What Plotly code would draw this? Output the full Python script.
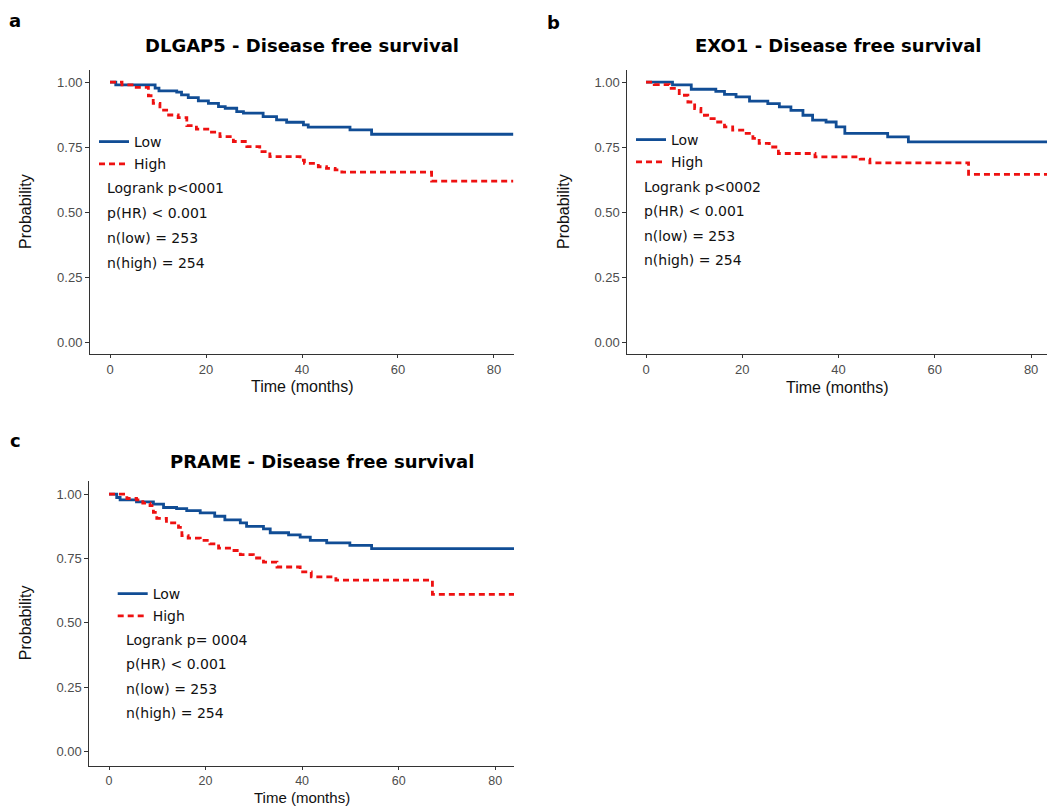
import plotly.graph_objects as go

W, H = 1047, 808

# ---------------- data ----------------
a_low_t = [0, 1.2, 9.4, 10.2, 13.9, 14.9, 16.3, 18.4, 20.5, 22.6, 24, 26.4, 27.8, 31.9, 34.7, 36.8, 40.3, 41.3, 50, 54.5, 84]
a_low_s = [1.0, 0.99, 0.977, 0.967, 0.962, 0.951, 0.941, 0.928, 0.919, 0.906, 0.9, 0.887, 0.881, 0.868, 0.855, 0.846, 0.836, 0.827, 0.817, 0.80, 0.80]
a_high_t = [0, 2.5, 4.9, 8, 9, 10.4, 11.8, 14.2, 16, 18, 20.8, 22.9, 25.7, 28.5, 31.2, 33.3, 39.6, 40.5, 43.4, 45.1, 46.9, 48.3, 67, 84]
a_high_s = [1.0, 0.99, 0.98, 0.948, 0.919, 0.893, 0.874, 0.864, 0.833, 0.82, 0.808, 0.791, 0.772, 0.752, 0.733, 0.714, 0.70, 0.688, 0.675, 0.669, 0.663, 0.654, 0.62, 0.62]

b_low_t = [0, 5.5, 9.4, 14.5, 16.3, 18.7, 21.5, 25.3, 27.7, 30.1, 32.6, 34.6, 37.4, 39.5, 41.3, 50.2, 54.5, 84]
b_low_s = [1.0, 0.99, 0.973, 0.965, 0.953, 0.944, 0.927, 0.918, 0.905, 0.892, 0.873, 0.854, 0.847, 0.828, 0.803, 0.79, 0.771, 0.771]
b_high_t = [0, 1.7, 4.8, 6.9, 8.7, 10.1, 11.4, 12.8, 14.5, 16.3, 18, 20.1, 22.2, 23.5, 25.6, 27.5, 35.1, 44.5, 46.5, 67, 84]
b_high_s = [1.0, 0.991, 0.976, 0.95, 0.924, 0.899, 0.873, 0.86, 0.847, 0.828, 0.816, 0.803, 0.784, 0.765, 0.751, 0.726, 0.713, 0.704, 0.69, 0.646, 0.646]

c_low_t = [0, 1.6, 2.3, 5.7, 9.2, 11.3, 14, 16.1, 18.9, 21.9, 24, 27.2, 28.5, 32, 33.4, 37.2, 39.6, 41.7, 45.1, 49.9, 54.4, 84]
c_low_s = [1.0, 0.987, 0.978, 0.97, 0.961, 0.948, 0.944, 0.936, 0.927, 0.914, 0.9, 0.888, 0.875, 0.865, 0.85, 0.842, 0.833, 0.82, 0.811, 0.801, 0.788, 0.788]
c_high_t = [0, 3.7, 5.7, 7, 8.5, 9.2, 9.9, 11.9, 14.4, 15.1, 16.4, 18.9, 20.9, 22.7, 25.4, 27.2, 29.9, 32, 34.8, 39.6, 41.9, 47, 67, 84]
c_high_s = [1.0, 0.983, 0.978, 0.965, 0.955, 0.929, 0.906, 0.888, 0.871, 0.839, 0.829, 0.82, 0.807, 0.79, 0.781, 0.765, 0.752, 0.736, 0.717, 0.698, 0.679, 0.666, 0.611, 0.611]

titles = ["DLGAP5 - Disease free survival", "EXO1 - Disease free survival", "PRAME - Disease free survival"]
panel_letters = ["a", "b", "c"]
group_names = ["Low", "High"]
stats_a = ["Logrank p<0001", "p(HR) < 0.001", "n(low) = 253", "n(high) = 254"]
stats_b = ["Logrank p<0002", "p(HR) < 0.001", "n(low) = 253", "n(high) = 254"]
stats_c = ["Logrank p= 0004", "p(HR) < 0.001", "n(low) = 253", "n(high) = 254"]
x_ticks = [0, 20, 40, 60, 80]
y_ticks = [0, 0.25, 0.5, 0.75, 1.0]

# ---------------- styling / layout ----------------
LOW_COL = "#114d95"
HIGH_COL = "#ee1111"
TXT_FONT = "DejaVu Sans"
AX_FONT = "Liberation Sans"

def px(x):
    return x / W

def py(y):
    return 1 - y / H

panels = [
    dict(low=(a_low_t, a_low_s), high=(a_high_t, a_high_s), stats=stats_a,
         xd=(90, 514), yd=(70, 354), xr=(-4.17, 84.17), yr=(-0.045, 1.047),
         title_xy=(302, 45), letter_xy=(15, 20), leg_xy=(94, 126), stat_x=105,
         stat_y=[188, 213, 238, 262.5], xt_y=386, xt_anchor="middle", xt_size=16, tick_size=13, yt_x=25),
    dict(low=(b_low_t, b_low_s), high=(b_high_t, b_high_s), stats=stats_b,
         xd=(627.3, 1047), yd=(70, 354), xr=(-3.89, 83.3), yr=(-0.045, 1.047),
         title_xy=(838, 45), letter_xy=(553, 22), leg_xy=(631, 124), stat_x=641.5,
         stat_y=[186.5, 211, 236, 260], xt_y=387, xt_anchor="middle", xt_size=16, tick_size=13, yt_x=563),
    dict(low=(c_low_t, c_low_s), high=(c_high_t, c_high_s), stats=stats_c,
         xd=(89.3, 514), yd=(481, 765.5), xr=(-4.08, 83.9), yr=(-0.054, 1.051),
         title_xy=(322, 461.5), letter_xy=(15, 440), leg_xy=(112.7, 578), stat_x=124,
         stat_y=[640, 664, 688.5, 713], xt_y=808, xt_anchor="bottom", xt_size=15, tick_size=12.5, yt_x=25),
]

fig = go.Figure()
annotations = []
layout = {}

for i, p in enumerate(panels):
    sfx = "" if i == 0 else str(i + 1)
    xa, ya = "x" + sfx, "y" + sfx
    leg = "legend" + sfx
    for name, (t, s), col, dash in [(group_names[0], p["low"], LOW_COL, "solid"),
                                     (group_names[1], p["high"], HIGH_COL, "6px,4px")]:
        fig.add_trace(go.Scatter(
            x=t, y=s, mode="lines", name=name, line=dict(color=col, width=2.8, dash=dash, shape="hv"),
            xaxis=xa, yaxis=ya, legend=leg, legendgroup=f"{name}{i}", showlegend=True,
        ))
    layout["xaxis" + sfx] = dict(
        domain=[px(p["xd"][0]), px(p["xd"][1])], range=list(p["xr"]), anchor=ya,
        tickvals=x_ticks, ticks="outside", ticklen=3, tickcolor="#333333",
        showline=True, linecolor="#333333", linewidth=1, showgrid=False, zeroline=False,
        tickfont=dict(family=AX_FONT, size=p["tick_size"], color="#4d4d4d"),
    )
    layout["yaxis" + sfx] = dict(
        domain=[py(p["yd"][1]), py(p["yd"][0])], range=list(p["yr"]), anchor=xa,
        tickvals=y_ticks, tickformat=".2f", ticks="outside", ticklen=4, tickcolor="#333333",
        showline=True, linecolor="#333333", linewidth=1, showgrid=False, zeroline=False,
        tickfont=dict(family=AX_FONT, size=13, color="#4d4d4d"),
    )
    layout[leg] = dict(
        x=px(p["leg_xy"][0]), y=py(p["leg_xy"][1]), xanchor="left", yanchor="top",
        bgcolor="rgba(0,0,0,0)", borderwidth=0, itemwidth=30, tracegroupgap=1,
        traceorder="grouped", font=dict(family=TXT_FONT, size=14, color="#111111"),
    )
    # title
    annotations.append(dict(text=f"<b>{titles[i]}</b>", x=px(p["title_xy"][0]), y=py(p["title_xy"][1]),
                            xref="paper", yref="paper", xanchor="center", yanchor="middle", showarrow=False,
                            font=dict(family=TXT_FONT, size=18, color="#000000")))
    # panel letter
    annotations.append(dict(text=f"<b>{panel_letters[i]}</b>", x=px(p["letter_xy"][0]), y=py(p["letter_xy"][1]),
                            xref="paper", yref="paper", xanchor="center", yanchor="middle", showarrow=False,
                            font=dict(family=TXT_FONT, size=18, color="#000000")))
    # stats
    for txt, yy in zip(p["stats"], p["stat_y"]):
        annotations.append(dict(text=txt, x=px(p["stat_x"]), y=py(yy), xref="paper", yref="paper",
                                xanchor="left", yanchor="middle", showarrow=False,
                                font=dict(family=TXT_FONT, size=14, color="#111111")))
    # axis titles
    annotations.append(dict(text="Time (months)", x=px((p["xd"][0] + p["xd"][1]) / 2), y=py(p["xt_y"]),
                            xref="paper", yref="paper", xanchor="center", yanchor=p["xt_anchor"], showarrow=False,
                            font=dict(family=AX_FONT, size=p["xt_size"], color="#111111")))
    annotations.append(dict(text="Probability", x=px(p["yt_x"]), y=py((p["yd"][0] + p["yd"][1]) / 2),
                            xref="paper", yref="paper", xanchor="center", yanchor="middle", showarrow=False,
                            textangle=-90, font=dict(family=AX_FONT, size=16, color="#111111")))

fig.update_layout(
    width=W, height=H, margin=dict(l=0, r=0, t=0, b=0),
    paper_bgcolor="white", plot_bgcolor="white",
    annotations=annotations, **layout,
)

fig.write_html("out.html")
